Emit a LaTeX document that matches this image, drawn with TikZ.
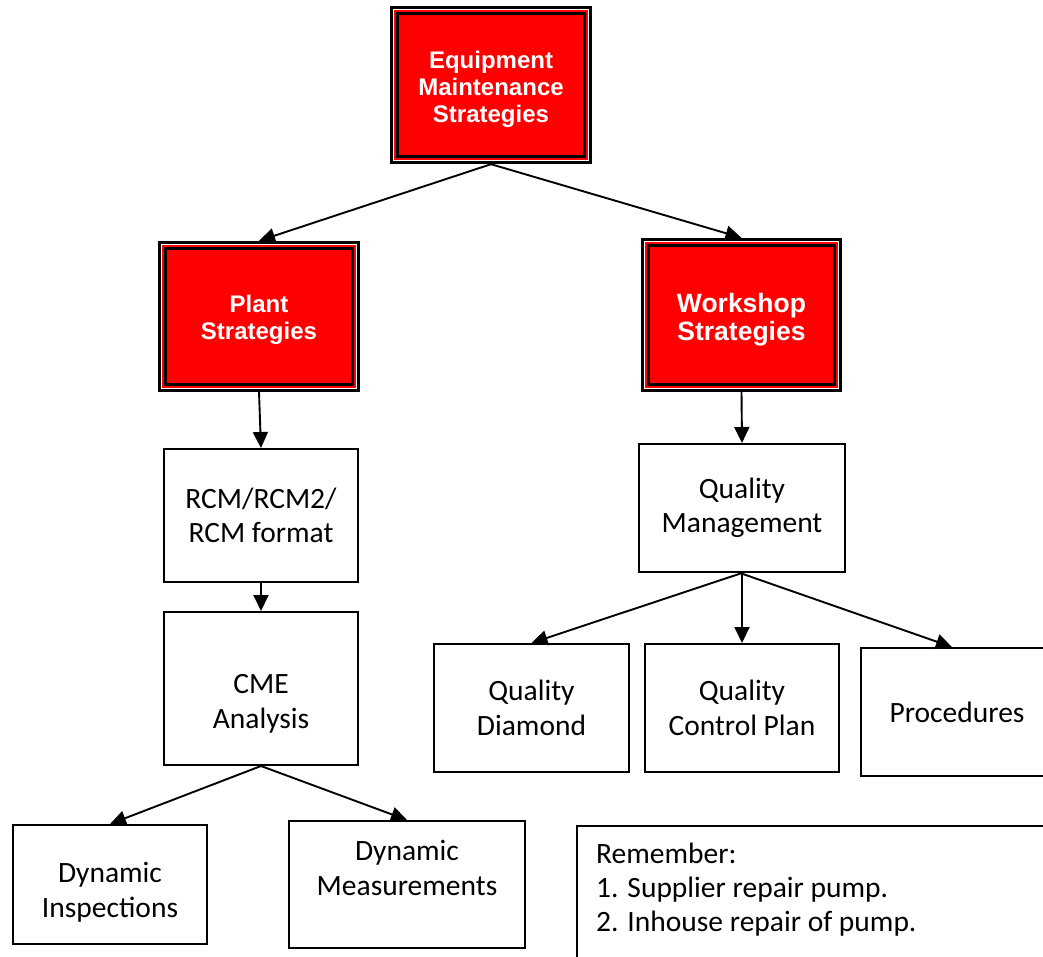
\documentclass[tikz,border=0pt]{standalone}
\usepackage{fontspec}
\setmainfont{Carlito}
\newfontfamily\arialb{Liberation Sans}
\usetikzlibrary{arrows.meta}

\tikzset{
 wbox/.style={draw=black, line width=2pt, fill=white, inner sep=0pt, align=center, font=\fontsize{29.5}{34.5}\selectfont},
 wtext/.style={align=center, inner sep=0pt, font=\fontsize{29.5}{34.5}\selectfont},
 rbfill/.style={fill=black, inner sep=0pt},
 rbtext/.style={text=white, align=center, font=\arialb\bfseries\fontsize{24}{27}\selectfont},
 conn/.style={line width=1.9pt, -{Triangle[length=16pt,width=15pt]}},
}

\newcommand\redbox[8][]{%
 \node[rbfill, minimum width=#5pt, minimum height=#6pt] (#2) at (#3,#4) {};
 \fill[white] ([shift={(3pt,-3pt)}]#2.north west) rectangle ([shift={(-3pt,3pt)}]#2.south east);
 \fill[red] ([shift={(4.5pt,-4.5pt)}]#2.north west) rectangle ([shift={(-4.5pt,4.5pt)}]#2.south east);
 \fill[black] ([shift={(6pt,-6pt)}]#2.north west) rectangle ([shift={(-6pt,6pt)}]#2.south east);
 \fill[red] ([shift={(9pt,-9pt)}]#2.north west) rectangle ([shift={(-9pt,9pt)}]#2.south east);
 \node[rbtext,#1] (#2-t) at ([yshift=-#8pt]#2.center) {#7};
}

\begin{document}
\begin{tikzpicture}[x=1pt,y=-1pt]
\useasboundingbox (0,0) rectangle (1043,957);
\clip (0,0) rectangle (1043,957);

\redbox{ems}{491}{85}{202}{158}{Equipment\\Maintenance\\Strategies}{4}
\redbox{plant}{259}{316.5}{202}{151}{Plant\\Strategies}{3}
\redbox[font=\arialb\bfseries\fontsize{26.5}{28}\selectfont]{work}{741.5}{315}{201}{154}{Workshop\\Strategies}{5}

\node[wbox, minimum width=194pt, minimum height=133pt] (rcm) at (261,515.5) {RCM/RCM2/\\RCM format};
\node[wbox, minimum width=194pt, minimum height=153pt] (cme) at (261,688.5) {};
\node[wtext] (cmet) at (261,704) {CME\\Analysis};
\node[wbox, minimum width=206pt, minimum height=128pt] (qm) at (742,508) {Quality\\Management};
\node[wbox, minimum width=195pt, minimum height=128pt] (qd) at (531.5,708) {Quality\\Diamond};
\node[wbox, minimum width=194pt, minimum height=128pt] (qcp) at (742,708) {Quality\\Control Plan};
\node[wbox, minimum width=192pt, minimum height=128pt] (proc) at (957,712) {Procedures};
\node[wbox, minimum width=194pt, minimum height=119pt] (di) at (110,884.5) {};
\node[wtext] (dit) at (110,892) {Dynamic\\Inspections};
\node[wbox, minimum width=236pt, minimum height=127pt] (dm) at (407,884.5) {};
\node[wtext] (dmt) at (407,868) {Dynamic\\Measurements};
\node[wbox, minimum width=500pt, minimum height=160pt] (rem) at (827,906) {};
\node[anchor=north west, align=left, inner sep=0pt, font=\fontsize{29.5}{34}\selectfont] (remtext) at (596,843) {Remember:\\1. Supplier repair pump.\\2. Inhouse repair of pump.};

\draw[conn] (ems.south) -- (plant.north);
\draw[conn] (ems.south) -- (work.north);
\draw[conn] (plant.south) -- (rcm.north);
\draw[conn] (rcm.south) -- (cme.north);
\draw[conn] (cme.south) -- (di.north);
\draw[conn] (cme.south) -- (dm.north);
\draw[conn] (work.south) -- (qm.north);
\draw[conn] (qm.south) -- (qd.north);
\draw[conn] (qm.south) -- (qcp.north);
\draw[conn] ([xshift=-2pt]qm.south) -- ([xshift=-5pt]proc.north);
\end{tikzpicture}
\end{document}
